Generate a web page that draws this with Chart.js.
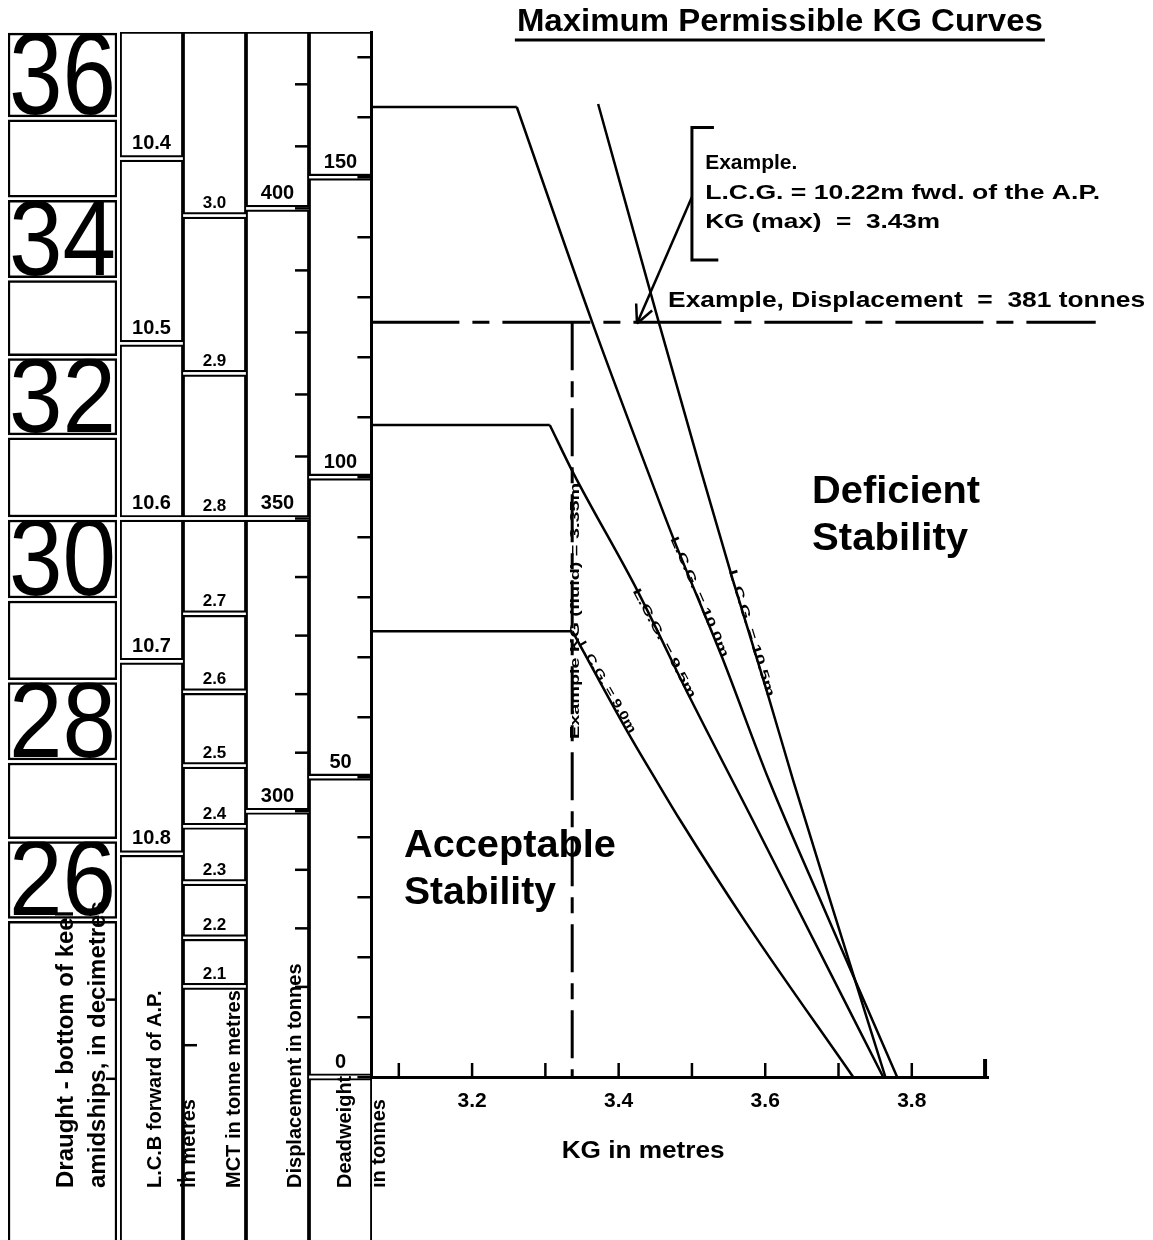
<!DOCTYPE html>
<html>
<head>
<meta charset="utf-8">
<title>Maximum Permissible KG Curves</title>
<script src="https://cdn.jsdelivr.net/npm/chart.js@4.4.1/dist/chart.umd.min.js"></script>
<style>
  html, body { margin: 0; padding: 0; background: #fff; }
  #wrap { position: relative; width: 1153px; height: 1240px; overflow: hidden; background: #fff; }
  #wrap canvas { position: absolute; left: 0; top: 0; }
</style>
</head>
<body>
<div id="wrap">
  <canvas id="draughtChart" width="1153" height="1240"></canvas>
  <canvas id="scaleChart" width="1153" height="1240"></canvas>
  <canvas id="kgChart" width="1153" height="1240"></canvas>
</div>
<script>
const FONT = "'Liberation Sans', Arial, sans-serif";

// ---- main plot: KG (x) against deadweight (y) ----
const kgMin = 3.0626, kgMax = 3.904;
const dwMax = 174.2;
const kgTickValues = [3.1, 3.2, 3.3, 3.4, 3.5, 3.6, 3.7, 3.8, 3.9];
const kgLabelValues = [3.2, 3.4, 3.6, 3.8];
const dwTickValues = [0, 10, 20, 30, 40, 50, 60, 70, 80, 90, 100, 110, 120, 130, 140, 150, 160, 170];

// each curve: a flat part (deadweight limit) and the sloping part
const lcg90FlatKG = [3.0626, 3.337];
const lcg90FlatDW = [74.3, 74.3];
const lcg90KG = [3.337, 3.411, 3.451, 3.484, 3.574, 3.720];
const lcg90DW = [74.3, 57.8, 49.5, 42.8, 25.7, 0];

const lcg95FlatKG = [3.0626, 3.306];
const lcg95FlatDW = [108.7, 108.7];
const lcg95KG = [3.306, 3.338, 3.425, 3.497, 3.583, 3.761];
const lcg95DW = [108.7, 100.7, 81.2, 63.3, 42.8, 0];

const lcg100FlatKG = [3.0626, 3.261];
const lcg100FlatDW = [161.7, 161.7];
const lcg100KG = [3.261, 3.364, 3.439, 3.474, 3.541, 3.605, 3.683, 3.780];
const lcg100DW = [161.7, 125.8, 101.2, 90.0, 70.0, 49.5, 27.3, 0];

const lcg105KG = [3.372, 3.455, 3.512, 3.556, 3.603, 3.638, 3.694, 3.764];
const lcg105DW = [162.2, 125.7, 101.2, 82.8, 64.0, 49.5, 27.3, 0];

// worked example
const exampleDeadweight = 125.8;   // 381 t displacement read across
const exampleLineEndKG = 4.051;
const exampleKG = 3.3366;
const bracketKG = [3.530, 3.500, 3.500, 3.536];
const bracketDW = [158.3, 158.3, 136.2, 136.2];
const arrowKG = [3.500, 3.425];
const arrowDW = [146.7, 125.6];

// ---- nomograph scales on the left (deadweight at the same height) ----
const draughtDm = [36, 35, 34, 33, 32, 31, 30, 29, 28, 27, 26, 25];
const draughtAtDW = [174.0, 159.8, 146.4, 133.0, 120.0, 106.8, 93.1, 79.6, 66.0, 52.6, 39.5, 26.2];
const draughtExtraAtDW = [12.9, -0.3];          // 24 and 23 dm, ticks only

const lcbMetres = ['10.4', '10.5', '10.6', '10.7', '10.8'];
const lcbAtDW = [153.1, 122.3, 93.1, 69.3, 37.2];
const lcbExtraAtDW = [-17.2];                    // 10.9, tick only

const mctTonneMetres = ['3.0', '2.9', '2.8', '2.7', '2.6', '2.5', '2.4', '2.3', '2.2', '2.1'];
const mctAtDW = [143.6, 117.3, 93.1, 77.2, 64.2, 51.9, 41.8, 32.4, 23.2, 15.1];
const mctExtraAtDW = [5.3];                      // 2.0, tick only

const displacementTonnes = [400, 350, 300];
const displacementAtDW = [144.8, 93.1, 44.3];
const displacementTicks = [270, 280, 290, 300, 310, 320, 330, 340, 350, 360, 370, 380, 390, 400, 410, 420];

const deadweightLabels = ['150', '100', '50', '0'];
const deadweightAtDW = [150, 100, 50, 0];

// ---- layout ----
const W = 1153, H = 1240;
const PLOT_TOP = 32, PLOT_BOTTOM = 1077, PLOT_LEFT = 371.4, PLOT_RIGHT = 988;
const dwFloor = -dwMax * (H - PLOT_BOTTOM) / (PLOT_BOTTOM - PLOT_TOP);
const GAP = 0.25;
const TITLE_BASE_DW = -18.5;

const toPoints = (xs, ys) => xs.map((x, i) => ({ x, y: ys[i] }));

function dispToDW(d) {
  // piecewise linear through the labelled displacement marks
  const a = displacementTonnes, b = displacementAtDW;
  const i = d < a[1] ? 1 : 0;
  const t = (d - a[i]) / (a[i + 1] - a[i]);
  return b[i] + t * (b[i + 1] - b[i]);
}

// stacked boxes of one nomograph column, edges from the top down
function columnBoxes(edges, labels, col, nCols, font) {
  const all = edges.concat([dwFloor - 20]);
  const out = [];
  for (let k = 0; k < all.length - 1; k++) {
    const hi = all[k] - (k > 0 ? GAP : 0);
    const lo = all[k + 1] + (k + 1 < all.length - 1 ? GAP : 0);
    const data = new Array(nCols).fill(null);
    data[col] = [lo, hi];
    out.push({ data, col, boxLabel: labels[k] || '', labelFont: font });
  }
  return out;
}

function fitText(ctx, text, x, y, font, width, align) {
  ctx.save();
  ctx.font = font;
  const w = ctx.measureText(text).width;
  const s = width ? width / w : 1;
  const x0 = align === 'center' ? x - w * s / 2 : x;
  ctx.translate(x0, y);
  ctx.scale(s, 1);
  ctx.textAlign = 'left';
  ctx.textBaseline = 'alphabetic';
  ctx.fillText(text, 0, 0);
  ctx.restore();
  return w * s;
}

function rotatedText(ctx, text, cx, cy, angle, font, length, align) {
  ctx.save();
  ctx.translate(cx, cy);
  ctx.rotate(angle * Math.PI / 180);
  ctx.font = font;
  const w = ctx.measureText(text).width;
  if (length) ctx.scale(length / w, 1);
  ctx.textAlign = align || 'center';
  ctx.textBaseline = 'middle';
  ctx.fillText(text, 0, 0);
  ctx.restore();
}

const boxStyle = {
  barPercentage: 1, categoryPercentage: 1, grouped: false,
  backgroundColor: '#fff', borderColor: '#000', borderWidth: 2.5, borderSkipped: false
};

// ---------------- draught column ----------------
const draughtLabels = draughtDm.map(d => (d % 2 === 0 ? String(d) : ''));
const draughtBoxes = columnBoxes(draughtAtDW, draughtLabels, 0, 1, null)
  .map(ds => Object.assign(ds, boxStyle));

const draughtText = {
  id: 'draughtText',
  afterDatasetsDraw(chart) {
    const ctx = chart.ctx;
    const y = chart.scales.y;
    ctx.save();
    ctx.fillStyle = '#000';
    chart.data.datasets.forEach((ds, i) => {
      if (!ds.boxLabel) return;
      const p = chart.getDatasetMeta(i).data[ds.col].getProps(['x', 'y', 'base', 'width'], true);
      const top = Math.min(p.y, p.base), bottom = Math.max(p.y, p.base);
      const left = p.x - p.width / 2;
      const h = bottom - top;
      ctx.save();
      ctx.beginPath();
      ctx.rect(left, top, p.width, h);
      ctx.clip();
      const size = Math.round(h / 0.716);
      fitText(ctx, ds.boxLabel, left + 1, bottom - 3, `normal ${size}px ${FONT}`, p.width - 2, 'left');
      ctx.restore();
    });
    // unlabelled draught ticks below the boxes
    const right = chart.chartArea.right;
    ctx.strokeStyle = '#000';
    ctx.lineWidth = 2.5;
    draughtExtraAtDW.forEach(v => {
      ctx.beginPath();
      ctx.moveTo(right - 11, y.getPixelForValue(v));
      ctx.lineTo(right, y.getPixelForValue(v));
      ctx.stroke();
    });
    const base = y.getPixelForValue(TITLE_BASE_DW);
    rotatedText(ctx, 'Draught - bottom of keel', 66, base, -90, `bold 24px ${FONT}`, null, 'left');
    rotatedText(ctx, 'amidships, in decimetres', 98, base, -90, `bold 24px ${FONT}`, null, 'left');
    ctx.restore();
  }
};

new Chart(document.getElementById('draughtChart'), {
  type: 'bar',
  data: { labels: ['Draught'], datasets: draughtBoxes },
  options: {
    responsive: false,
    animation: false,
    layout: { padding: { left: 8, right: W - 117, top: PLOT_TOP, bottom: 0 } },
    scales: {
      x: { display: false },
      y: { display: false, min: dwFloor, max: dwMax }
    },
    plugins: { legend: { display: false }, tooltip: { enabled: false } }
  },
  plugins: [draughtText]
});

// ---------------- LCB / MCT / displacement / deadweight columns ----------------
const colNames = ['LCB', 'MCT', 'Displacement', 'Deadweight'];
const scaleBoxes = []
  .concat(columnBoxes([dwMax].concat(lcbAtDW), lcbMetres, 0, 4, `bold 20px ${FONT}`))
  .concat(columnBoxes([dwMax].concat(mctAtDW), mctTonneMetres, 1, 4, `bold 17px ${FONT}`))
  .concat(columnBoxes([dwMax].concat(displacementAtDW), displacementTonnes.map(String), 2, 4, `bold 20px ${FONT}`))
  .concat(columnBoxes([dwMax].concat(deadweightAtDW), deadweightLabels, 3, 4, `bold 20px ${FONT}`))
  .map(ds => Object.assign(ds, boxStyle, { borderWidth: 2.2 }));

const scaleText = {
  id: 'scaleText',
  afterDatasetsDraw(chart) {
    const ctx = chart.ctx;
    const y = chart.scales.y;
    const cols = [];
    ctx.save();
    ctx.fillStyle = '#000';
    ctx.strokeStyle = '#000';
    chart.data.datasets.forEach((ds, i) => {
      const p = chart.getDatasetMeta(i).data[ds.col].getProps(['x', 'y', 'base', 'width'], true);
      cols[ds.col] = { x: p.x, left: p.x - p.width / 2, right: p.x + p.width / 2 };
      if (!ds.boxLabel) return;
      const bottom = Math.max(p.y, p.base);
      ctx.font = ds.labelFont;
      ctx.textAlign = 'center';
      ctx.textBaseline = 'alphabetic';
      ctx.fillText(ds.boxLabel, p.x, bottom - (ds.col === 1 ? 6 : 8));
    });
    ctx.lineWidth = 2.5;
    const tick = (x0, x1, v) => {
      const yy = y.getPixelForValue(v);
      ctx.beginPath(); ctx.moveTo(x0, yy); ctx.lineTo(x1, yy); ctx.stroke();
    };
    displacementTicks.forEach(d => tick(cols[2].right - 14, cols[2].right, dispToDW(d)));
    mctExtraAtDW.forEach(v => tick(cols[1].left, cols[1].left + 14, v));
    lcbExtraAtDW.forEach(v => tick(cols[0].right - 6, cols[0].right, v));

    const base = y.getPixelForValue(TITLE_BASE_DW);
    const f = `bold 20px ${FONT}`;
    rotatedText(ctx, 'L.C.B forward of A.P.', cols[0].x + 4, base, -90, f, null, 'left');
    rotatedText(ctx, 'in metres', cols[0].right + 6, base, -90, f, null, 'left');
    rotatedText(ctx, 'MCT in tonne metres', cols[1].x + 20, base, -90, f, null, 'left');
    rotatedText(ctx, 'Displacement in tonnes', cols[2].x + 18, base, -90, f, null, 'left');
    rotatedText(ctx, 'Deadweight', cols[3].x + 5, base, -90, f, null, 'left');
    rotatedText(ctx, 'in tonnes', cols[3].right + 7, base, -90, f, null, 'left');
    ctx.restore();
  }
};

new Chart(document.getElementById('scaleChart'), {
  type: 'bar',
  data: { labels: colNames, datasets: scaleBoxes },
  options: {
    responsive: false,
    animation: false,
    layout: { padding: { left: 120, right: W - 372, top: PLOT_TOP, bottom: 0 } },
    scales: {
      x: { display: false },
      y: { display: false, min: dwFloor, max: dwMax }
    },
    plugins: { legend: { display: false }, tooltip: { enabled: false } }
  },
  plugins: [scaleText]
});

// ---------------- KG curves ----------------
const lineStyle = { showLine: true, borderColor: '#000', borderWidth: 2.5, pointRadius: 0, tension: 0, fill: false };
const curveStyle = Object.assign({}, lineStyle, { cubicInterpolationMode: 'monotone' });

const kgAnnotations = {
  id: 'kgAnnotations',
  afterDraw(chart) {
    const { ctx, chartArea } = chart;
    const x = chart.scales.x, y = chart.scales.y;
    const px = v => x.getPixelForValue(v), py = v => y.getPixelForValue(v);
    ctx.save();
    ctx.fillStyle = '#000';
    ctx.strokeStyle = '#000';

    // tick marks on the KG axis point up into the plot
    kgTickValues.forEach((v, i) => {
      const last = i === kgTickValues.length - 1;
      ctx.lineWidth = last ? 4 : 2.5;
      ctx.beginPath();
      ctx.moveTo(px(v), chartArea.bottom);
      ctx.lineTo(px(v), chartArea.bottom - (last ? 18 : 14));
      ctx.stroke();
    });
    fitText(ctx, 'KG in metres', px(3.4334), chartArea.bottom + 81, `bold 23px ${FONT}`, 163, 'center');

    // title
    const tw = fitText(ctx, 'Maximum Permissible KG Curves', px(3.620), chartArea.top - 1, `bold 31px ${FONT}`, 526, 'center');
    ctx.lineWidth = 3;
    ctx.beginPath();
    ctx.moveTo(px(3.620) - tw / 2 - 2, chartArea.top + 8);
    ctx.lineTo(px(3.620) + tw / 2 + 2, chartArea.top + 8);
    ctx.stroke();

    // worked example notes
    fitText(ctx, 'Example.', px(3.518), py(151.3), `bold 21px ${FONT}`, null, 'left');
    fitText(ctx, 'L.C.G. = 10.22m fwd. of the A.P.', px(3.518), py(146.3), `bold 21px ${FONT}`, 395, 'left');
    fitText(ctx, 'KG (max)  =  3.43m', px(3.518), py(141.5), `bold 21px ${FONT}`, 235, 'left');
    fitText(ctx, 'Example, Displacement  =  381 tonnes', px(3.4675), py(128.3), `bold 22px ${FONT}`, 477, 'left');

    // arrow head
    const ax0 = px(arrowKG[0]), ay0 = py(arrowDW[0]), ax1 = px(arrowKG[1]), ay1 = py(arrowDW[1]);
    const ang = Math.atan2(ay0 - ay1, ax0 - ax1);
    ctx.lineWidth = 2.5;
    [-0.45, 0.45].forEach(da => {
      ctx.beginPath();
      ctx.moveTo(ax1, ay1);
      ctx.lineTo(ax1 + 20 * Math.cos(ang + da), ay1 + 20 * Math.sin(ang + da));
      ctx.stroke();
    });

    // regions
    fitText(ctx, 'Deficient', px(3.664), py(95.7), `bold 39px ${FONT}`, 168, 'left');
    fitText(ctx, 'Stability', px(3.664), py(87.8), `bold 39px ${FONT}`, 156, 'left');
    fitText(ctx, 'Acceptable', px(3.107), py(36.7), `bold 39px ${FONT}`, 212, 'left');
    fitText(ctx, 'Stability', px(3.107), py(28.8), `bold 39px ${FONT}`, 152, 'left');

    // curve labels along the lines
    const small = `bold 12px ${FONT}`;
    rotatedText(ctx, 'L.C.G. = 10.5m', px(3.581), py(74.0), 73, small, 132);
    rotatedText(ctx, 'L.C.G. = 10.0m', px(3.510), py(80.0), 66.5, small, 130);
    rotatedText(ctx, 'L.C.G. = 9.5m', px(3.462), py(72.3), 62, small, 122);
    rotatedText(ctx, 'L.C.G. = 9.0m', px(3.384), py(65.0), 60, small, 104);
    rotatedText(ctx, 'Example KG (fluid) = 3.35m', px(exampleKG) + 3, py(77.7), -90, small, 256);
    ctx.restore();
  }
};

new Chart(document.getElementById('kgChart'), {
  type: 'scatter',
  data: {
    datasets: [
      Object.assign({ label: 'L.C.G. = 9.0m limit', data: toPoints(lcg90FlatKG, lcg90FlatDW) }, lineStyle),
      Object.assign({ label: 'L.C.G. = 9.0m', data: toPoints(lcg90KG, lcg90DW) }, curveStyle),
      Object.assign({ label: 'L.C.G. = 9.5m limit', data: toPoints(lcg95FlatKG, lcg95FlatDW) }, lineStyle),
      Object.assign({ label: 'L.C.G. = 9.5m', data: toPoints(lcg95KG, lcg95DW) }, curveStyle),
      Object.assign({ label: 'L.C.G. = 10.0m limit', data: toPoints(lcg100FlatKG, lcg100FlatDW) }, lineStyle),
      Object.assign({ label: 'L.C.G. = 10.0m', data: toPoints(lcg100KG, lcg100DW) }, curveStyle),
      Object.assign({ label: 'L.C.G. = 10.5m', data: toPoints(lcg105KG, lcg105DW) }, curveStyle),
      Object.assign({ label: 'Example displacement', data: toPoints([kgMin, exampleLineEndKG], [exampleDeadweight, exampleDeadweight]) },
        lineStyle, { borderWidth: 3, borderDash: [88, 13, 17, 13], clip: false }),
      Object.assign({ label: 'Example KG', data: toPoints([exampleKG, exampleKG], [exampleDeadweight, 0]) },
        lineStyle, { borderWidth: 3, borderDash: [48, 11, 16, 11] }),
      Object.assign({ label: 'bracket', data: toPoints(bracketKG, bracketDW) }, lineStyle, { borderWidth: 3 }),
      Object.assign({ label: 'arrow', data: toPoints(arrowKG, arrowDW) }, lineStyle)
    ]
  },
  options: {
    responsive: false,
    animation: false,
    layout: { padding: { left: PLOT_LEFT - 14, right: W - PLOT_RIGHT, top: PLOT_TOP, bottom: H - PLOT_BOTTOM - 85 } },
    plugins: { legend: { display: false }, tooltip: { enabled: false } },
    scales: {
      x: {
        type: 'linear', min: kgMin, max: kgMax,
        afterBuildTicks: s => { s.ticks = kgTickValues.map(v => ({ value: v })); },
        afterFit: s => { s.height = 85; },
        grid: { display: false, drawTicks: false },
        border: { display: true, color: '#000', width: 3 },
        ticks: {
          autoSkip: false, maxRotation: 0, padding: 12, color: '#000',
          font: { family: FONT, size: 21, weight: 'bold' },
          callback: v => (kgLabelValues.includes(Math.round(v * 10) / 10) ? v.toFixed(1) : '')
        }
      },
      y: {
        type: 'linear', min: 0, max: dwMax,
        afterBuildTicks: s => { s.ticks = dwTickValues.map(v => ({ value: v })); },
        afterFit: s => { s.width = 14; },
        grid: { drawOnChartArea: false, drawTicks: true, tickLength: 14, color: '#000', lineWidth: 2.5 },
        border: { display: true, color: '#000', width: 3 },
        ticks: { display: false }
      }
    }
  },
  plugins: [kgAnnotations]
});
</script>
</body>
</html>
